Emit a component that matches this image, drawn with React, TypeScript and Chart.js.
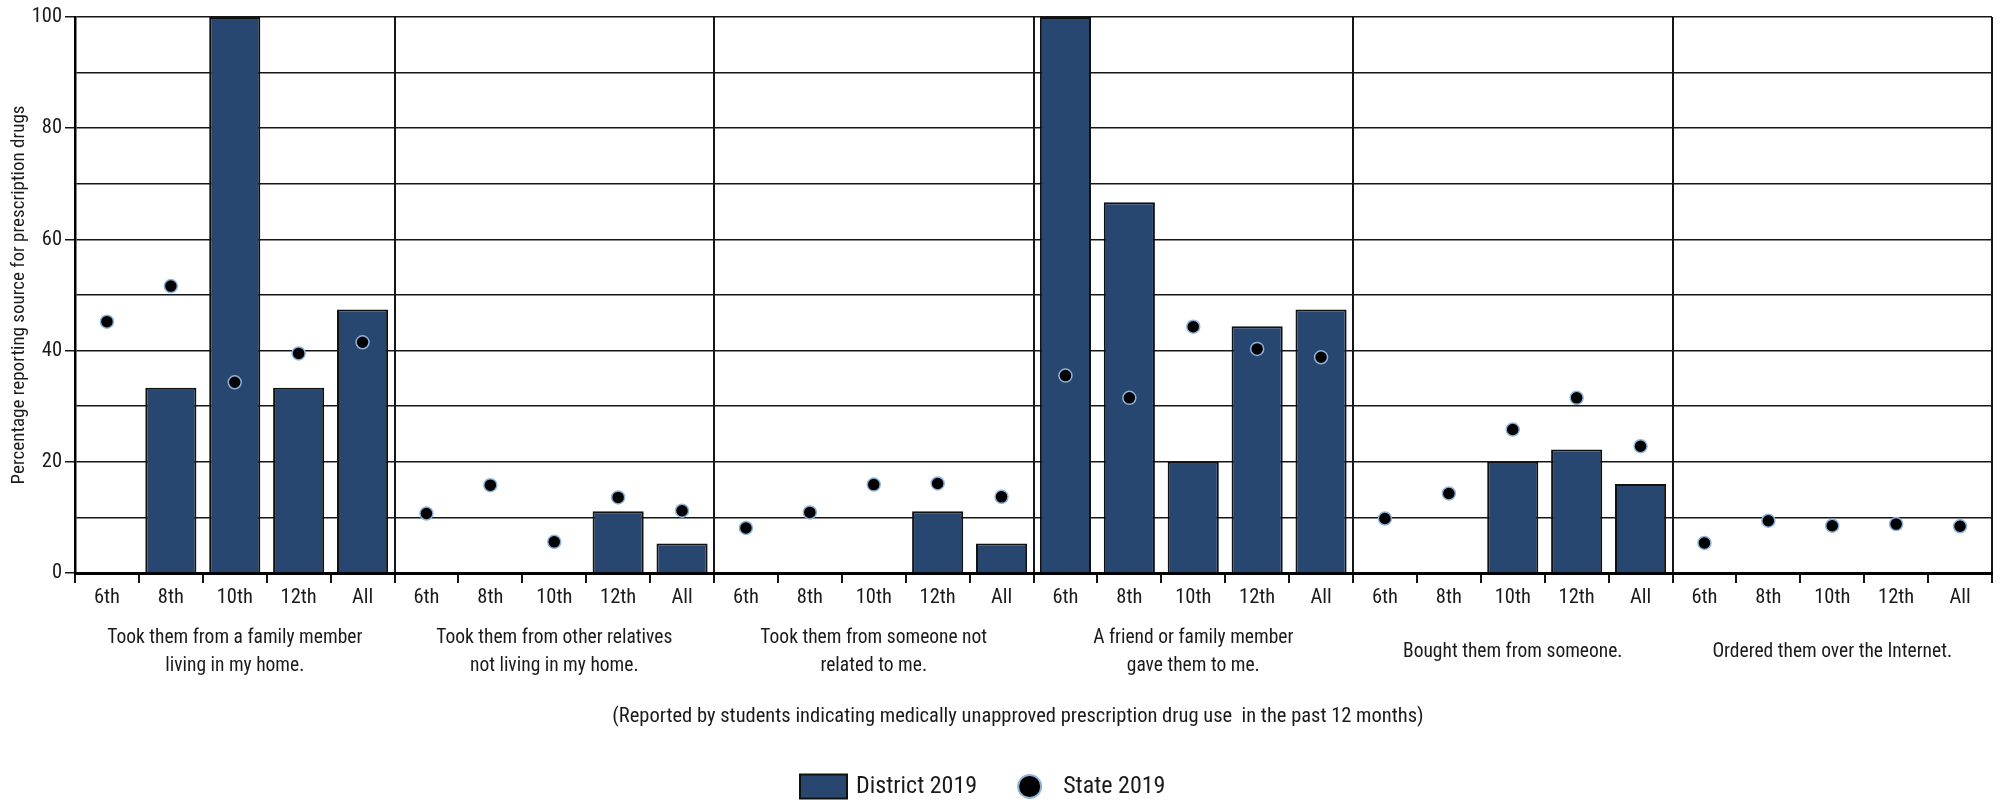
import React, { useEffect, useRef } from 'react';
import { Chart, registerables } from 'chart.js';

Chart.register(...registerables);

const FONT = "'Roboto Condensed', 'DejaVu Sans Condensed', sans-serif";

const grades = ['6th', '8th', '10th', '12th', 'All'];
const groupLabels = [
  ['Took them from a family member', 'living in my home.'],
  ['Took them from other relatives', 'not living in my home.'],
  ['Took them from someone not', 'related to me.'],
  ['A friend or family member', 'gave them to me.'],
  ['Bought them from someone.'],
  ['Ordered them over the Internet.'],
];
const categoryLabels = groupLabels.flatMap(() => grades);

const district2019 = [
  null, 33.3, 100, 33.3, 47.4,
  null, null, null, 11.1, 5.3,
  null, null, null, 11.1, 5.3,
  100, 66.7, 20, 44.4, 47.4,
  null, null, 20, 22.2, 16.0,
  null, null, null, null, null,
];
const state2019 = [
  45.2, 51.6, 34.3, 39.5, 41.5,
  10.7, 15.8, 5.6, 13.6, 11.2,
  8.1, 10.9, 15.9, 16.1, 13.7,
  35.5, 31.5, 44.3, 40.3, 38.8,
  9.8, 14.3, 25.8, 31.5, 22.8,
  5.4, 9.4, 8.5, 8.8, 8.4,
];
const seriesNames = ['District 2019', 'State 2019'];
const yAxisTitle = 'Percentage reporting source for prescription drugs';
const footnote = '(Reported by students indicating medically unapproved prescription drug use  in the past 12 months)';

const NAVY = '#274670';
const POINT_EDGE = '#8FB2DB';
const LINE = '#161616';
const TEXT = '#1a1a1a';

const annotationsPlugin = {
  id: 'footnoteAndLegend',
  afterDraw(chart: any) {
    const ctx = chart.ctx;
    ctx.save();
    // footnote
    ctx.font = `20.5px ${FONT}`;
    ctx.textAlign = 'center';
    ctx.textBaseline = 'middle';
    ctx.fillStyle = TEXT;
    ctx.fillText(footnote, 1018, 717);

    // legend
    ctx.textAlign = 'left';
    const cy = 786.5;
    ctx.font = `24px ${FONT}`;
    const boxW = 47, boxH = 24, r = 11.5;
    const t0 = chart.data.datasets[0].label;
    const t1 = chart.data.datasets[1].label;
    const w0 = ctx.measureText(t0).width;
    let x = 800;
    ctx.fillStyle = NAVY;
    ctx.fillRect(x, cy - boxH / 2, boxW, boxH);
    ctx.lineWidth = 2;
    ctx.strokeStyle = '#111';
    ctx.strokeRect(x, cy - boxH / 2, boxW, boxH);
    x += boxW + 9;
    ctx.fillStyle = TEXT;
    ctx.fillText(t0, x, cy);
    x += w0 + 41;
    ctx.beginPath();
    ctx.arc(x + r, cy, r, 0, Math.PI * 2);
    ctx.fillStyle = '#000';
    ctx.fill();
    ctx.lineWidth = 2;
    ctx.strokeStyle = POINT_EDGE;
    ctx.stroke();
    x += 2 * r + 22;
    ctx.fillStyle = TEXT;
    ctx.fillText(t1, x, cy);
    ctx.restore();
  },
};

export default function App() {
  const ref = useRef<HTMLCanvasElement | null>(null);
  useEffect(() => {
    if (!ref.current) return;
    const chart = new Chart(ref.current, {
      type: 'bar',
      data: {
        labels: categoryLabels,
        datasets: [
          {
            type: 'bar',
            label: seriesNames[0],
            data: district2019,
            backgroundColor: NAVY,
            borderColor: '#111',
            borderWidth: 2,
            barPercentage: 0.8,
            categoryPercentage: 1,
            order: 2,
            xAxisID: 'x',
          } as any,
          {
            type: 'line',
            label: seriesNames[1],
            data: state2019,
            showLine: false,
            pointRadius: 6.5,
            pointBackgroundColor: '#000',
            pointBorderColor: POINT_EDGE,
            pointBorderWidth: 1.5,
            order: 1,
            xAxisID: 'x',
          } as any,
        ],
      },
      options: {
        responsive: false,
        animation: false,
        layout: { padding: { left: 8, right: 9, top: 17, bottom: 76 } },
        plugins: { legend: { display: false }, tooltip: { enabled: false } },
        scales: {
          x: {
            type: 'category',
            position: 'bottom',
            weight: 0,
            offset: true,
            afterFit: (s: any) => { s.height = 36; },
            grid: {
              offset: true,
              color: (c: any) => (c.type !== 'tick' || c.index % 5 === 0 ? LINE : 'rgba(0,0,0,0)'),
              tickColor: LINE,
              lineWidth: 2,
              tickWidth: 2,
              tickLength: 10,
            },
            border: { display: true, color: '#000', width: 3 },
            ticks: {
              autoSkip: false,
              maxRotation: 0,
              color: TEXT,
              padding: 3,
              font: { family: FONT, size: 20.5 },
            },
          },
          x2: {
            type: 'category',
            labels: groupLabels as any,
            position: 'bottom',
            weight: 1,
            offset: true,
            afterFit: (s: any) => { s.height = 116; },
            grid: { display: false, drawTicks: false },
            border: { display: false },
            ticks: {
              autoSkip: false,
              maxRotation: 0,
              color: TEXT,
              padding: 29,
              crossAlign: 'center',
              font: { family: FONT, size: 19.5, lineHeight: 1.45 },
            },
          } as any,
          y: {
            min: 0,
            max: 100,
            afterFit: (s: any) => { s.width = 67; },
            grid: {
              color: LINE,
              lineWidth: 1.5,
              tickColor: (c: any) => (c.tick && c.tick.value % 20 === 0 ? LINE : 'rgba(0,0,0,0)'),
              tickLength: 10,
            },
            border: { display: true, color: '#000', width: 2.5 },
            ticks: {
              stepSize: 10,
              autoSkip: false,
              padding: 3,
              color: TEXT,
              font: { family: FONT, size: 20.5 },
              callback: (v: any) => (Number(v) % 20 === 0 ? String(v) : ''),
            },
            title: {
              display: true,
              text: yAxisTitle,
              color: TEXT,
              font: { family: FONT, size: 19 },
              padding: { top: 0, bottom: 2 },
            },
          },
        },
      },
      plugins: [annotationsPlugin],
    });
    return () => chart.destroy();
  }, []);
  return (
    <div style={{ position: 'fixed', left: 0, top: 0, width: 2001, height: 801, background: '#fff' }}>
      <canvas ref={ref} width={2001} height={801} style={{ display: 'block' }} />
    </div>
  );
}
